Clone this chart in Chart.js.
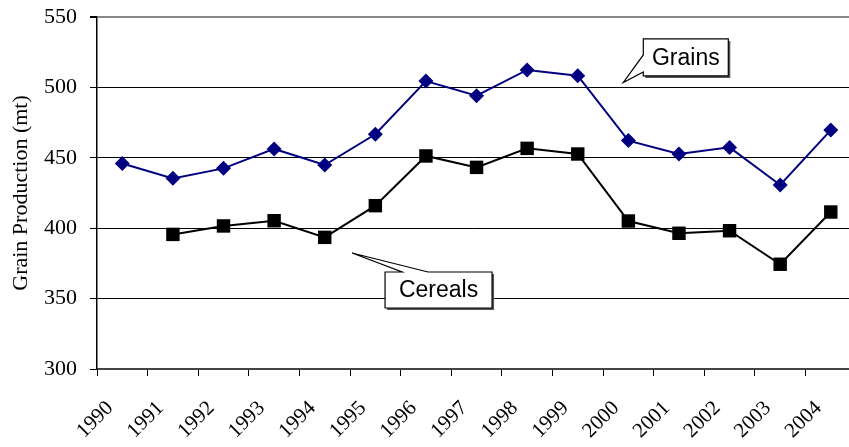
<!DOCTYPE html>
<html>
<head>
<meta charset="utf-8">
<script src="https://cdn.jsdelivr.net/npm/chart.js"></script>
<style>
  html, body { margin: 0; padding: 0; background: #fff; }
</style>
</head>
<body>
<canvas id="chart" width="849" height="447"></canvas>
<script>
// values
const years = [1990, 1991, 1992, 1993, 1994, 1995, 1996, 1997, 1998, 1999, 2000, 2001, 2002, 2003, 2004];
const grains = [446, 435.4, 442.5, 456.3, 444.9, 466.7, 504.5, 494.1, 512.4, 508.3, 462.2, 452.7, 457.4, 430.7, 469.7];
const cereals = [null, 395.6, 401.6, 405.3, 393.5, 416, 451.3, 443.2, 456.7, 452.7, 405.1, 396.4, 398.2, 374.4, 411.5];
const yTicks = [300, 350, 400, 450, 500, 550];

// each year sits in the middle of its band, labels go on the band edges
const toPoints = vals => years.map((yr, i) => ({ x: yr + 0.5, y: vals[i] }));

// callout boxes: tip in data units, box offsets in px from the tip
const callouts = [
  { text: 'Grains', tip: [2000.4, 503.5], box: { dx: 20, dy: -43.5, w: 85, h: 37 }, side: 'left', base: [16, 33] },
  { text: 'Cereals', tip: [1995.04, 382.4], box: { dx: 33, dy: 19, w: 107, h: 36 }, side: 'top', base: [17, 43] }
];

const calloutPlugin = {
  id: 'callouts',
  afterDatasetsDraw(chart) {
    const ctx = chart.ctx;
    const xs = chart.scales.x, ys = chart.scales.y;
    callouts.forEach(c => {
      const tx = xs.getPixelForValue(c.tip[0]);
      const ty = ys.getPixelForValue(c.tip[1]);
      const l = tx + c.box.dx, t = ty + c.box.dy, w = c.box.w, h = c.box.h;
      const path = () => {
        ctx.beginPath();
        if (c.side === 'left') {
          ctx.moveTo(l, t);
          ctx.lineTo(l + w, t);
          ctx.lineTo(l + w, t + h);
          ctx.lineTo(l, t + h);
          ctx.lineTo(l, t + c.base[1]);
          ctx.lineTo(tx, ty);
          ctx.lineTo(l, t + c.base[0]);
        } else {
          ctx.moveTo(l, t);
          ctx.lineTo(l + c.base[0], t);
          ctx.lineTo(tx, ty);
          ctx.lineTo(l + c.base[1], t);
          ctx.lineTo(l + w, t);
          ctx.lineTo(l + w, t + h);
          ctx.lineTo(l, t + h);
        }
        ctx.closePath();
      };
      ctx.save();
      // little drop shadow
      ctx.fillStyle = '#555';
      ctx.fillRect(l + 2, t + 2, w, h);
      path();
      ctx.fillStyle = '#fff';
      ctx.fill();
      ctx.strokeStyle = '#000';
      ctx.lineWidth = 1.2;
      ctx.stroke();
      ctx.fillStyle = '#000';
      ctx.font = '23px "Liberation Sans", Arial, sans-serif';
      ctx.textAlign = 'center';
      ctx.textBaseline = 'middle';
      ctx.fillText(c.text, l + w / 2, t + h / 2 + 1);
      ctx.restore();
    });
  }
};

const serif = '"Liberation Serif", "Times New Roman", serif';

new Chart(document.getElementById('chart'), {
  type: 'line',
  data: {
    datasets: [
      {
        label: 'Grains',
        data: toPoints(grains),
        borderColor: '#000080',
        backgroundColor: '#000080',
        borderWidth: 2,
        pointStyle: 'rectRot',
        pointRadius: 7.5,
        pointBorderWidth: 0,
        tension: 0
      },
      {
        label: 'Cereals',
        data: toPoints(cereals),
        borderColor: '#000',
        backgroundColor: '#000',
        borderWidth: 2,
        pointStyle: 'rect',
        pointRadius: 9.5,
        pointBorderWidth: 0,
        tension: 0
      }
    ]
  },
  options: {
    responsive: false,
    animation: false,
    devicePixelRatio: 1,
    layout: { autoPadding: false, padding: { top: 17, right: 0, left: 0, bottom: 0 } },
    plugins: {
      legend: { display: false },
      tooltip: { enabled: false }
    },
    scales: {
      x: {
        type: 'linear',
        min: years[0],
        max: years[years.length - 1] + 0.86,
        afterFit: scale => {
          scale.height = 78;
          scale.paddingLeft = 0;
          scale.paddingRight = 0;
        },
        ticks: {
          stepSize: 1,
          includeBounds: false,
          autoSkip: false,
          maxRotation: 45,
          minRotation: 45,
          padding: 20,
          labelOffset: 13,
          color: '#000',
          font: { family: serif, size: 21 },
          callback: v => String(v)
        },
        grid: { drawOnChartArea: false, tickLength: 7, color: '#000', tickColor: '#000' },
        border: { color: '#444', width: 2 }
      },
      y: {
        min: yTicks[0],
        max: yTicks[yTicks.length - 1],
        afterFit: scale => {
          scale.width = 97;
          scale.paddingTop = 0;
          scale.paddingBottom = 0;
        },
        afterBuildTicks: scale => { scale.ticks = yTicks.map(v => ({ value: v })); },
        ticks: {
          padding: 13,
          color: '#000',
          font: { family: serif, size: 22 }
        },
        grid: {
          tickLength: 7,
          tickColor: '#000',
          color: c => (c.tick && c.tick.value === 550 ? '#888' : '#000'),
          lineWidth: c => (c.tick && c.tick.value === 550 ? 2 : 1)
        },
        border: { color: '#000', width: 1.5 },
        title: {
          display: true,
          text: 'Grain Production (mt)',
          color: '#000',
          font: { family: serif, size: 22 },
          padding: { top: 8, bottom: 0 }
        }
      }
    }
  },
  plugins: [calloutPlugin]
});
</script>
</body>
</html>
